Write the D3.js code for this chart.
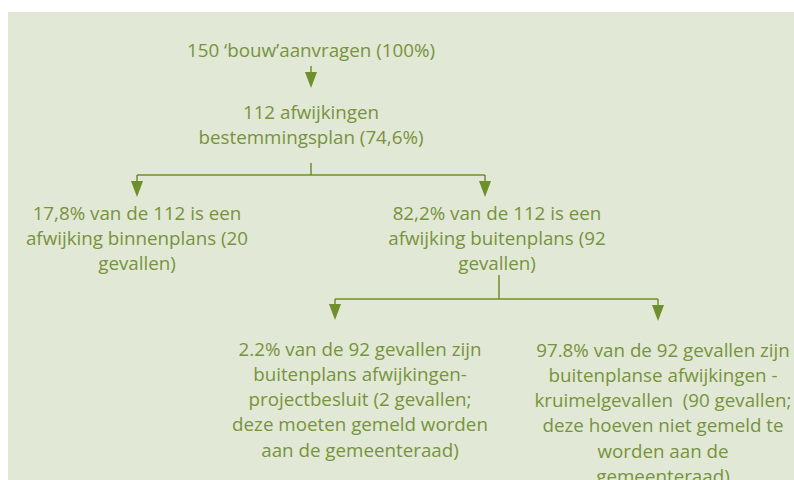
<!DOCTYPE html>
<html lang="nl">
<head>
<meta charset="utf-8">
<title>Afwijkingen bestemmingsplan</title>
<script src="https://d3js.org/d3.v7.min.js"></script>
<style>
  body { margin: 0; background: #fff; }
  text { font-family: "Open Sans", Lato, sans-serif; white-space: pre; }
</style>
</head>
<body>
<svg id="chart" width="794" height="480"></svg>
<script>
// nodes of the tree (text lines as shown)
var nodeIds = ["root", "afw", "binnen", "buiten", "project", "kruimel"];
var nodeLines = [
  ["150 \u2018bouw\u2019aanvragen (100%)"],
  ["112 afwijkingen", "bestemmingsplan (74,6%)"],
  ["17,8% van de 112 is een", "afwijking binnenplans (20", "gevallen)"],
  ["82,2% van de 112 is een", "afwijking buitenplans (92", "gevallen)"],
  ["2.2% van de 92 gevallen zijn", "buitenplans afwijkingen-", "projectbesluit (2 gevallen;", "deze moeten gemeld worden", "aan de gemeenteraad)"],
  ["97.8% van de 92 gevallen zijn", "buitenplanse afwijkingen -", "kruimelgevallen  (90 gevallen;", "deze hoeven niet gemeld te", "worden aan de", "gemeenteraad)"]
];
var linkFrom = ["root", "afw", "afw", "buiten", "buiten"];
var linkTo   = ["afw", "binnen", "buiten", "project", "kruimel"];

// layout (pixel positions of each box: text centre x, first line y, arrow x)
var layout = {
  root:    {x: 311, y: 50,  ax: 311, bottom: 66},
  afw:     {x: 311, y: 112, ax: 311, bottom: 163},
  binnen:  {x: 137, y: 213, ax: 137},
  buiten:  {x: 497, y: 213, ax: 485, bx: 499, bottom: 275},
  project: {x: 360, y: 349, ax: 335},
  kruimel: {x: 663, y: 350, ax: 658}
};

var textColor = "#77933c", lineColor = "#6f8f2c", lineH = 25.3;
var svg = d3.select("#chart");

svg.append("rect").attr("x", 8).attr("y", 12).attr("width", 786).attr("height", 468)
  .attr("fill", "#e2e8d6");

var nodes = nodeIds.map(function(id, i) { return {id: id, lines: nodeLines[i]}; });

var g = svg.selectAll("g.node").data(nodes).enter().append("g").attr("class", "node");
g.each(function(d) {
  var p = layout[d.id];
  d3.select(this).selectAll("text").data(d.lines).enter().append("text")
    .attr("x", p.x)
    .attr("y", function(t, j) { return p.y + j * lineH; })
    .attr("dy", "0.35em")
    .attr("text-anchor", "middle")
    .attr("fill", textColor)
    .attr("font-size", 17)
    .text(function(t) { return t; });
});

// fit the font size to the width of the top label (about 248px in the original)
var w = svg.select("g.node text").node().getComputedTextLength();
svg.selectAll("g.node text").attr("font-size", (17 * 248 / w).toFixed(2));

// connectors
var links = linkFrom.map(function(f, i) { return {from: f, to: linkTo[i]}; });
var byParent = d3.group(links, function(l) { return l.from; });

byParent.forEach(function(kids, parent) {
  var p = layout[parent];
  var sx = p.bx || p.ax;
  if (kids.length === 1) {
    var c = layout[kids[0].to];
    var tipY = c.y - 24;
    svg.append("line").attr("x1", c.ax).attr("x2", c.ax).attr("y1", p.bottom).attr("y2", tipY - 14)
      .attr("stroke", lineColor).attr("stroke-width", 1.5);
    arrow(c.ax, tipY);
  } else {
    var hy = p.bottom + 12 + (parent === "buiten" ? 12 : 0);
    var xs = kids.map(function(k) { return layout[k.to].ax; });
    svg.append("line").attr("x1", sx).attr("x2", sx).attr("y1", p.bottom).attr("y2", hy)
      .attr("stroke", lineColor).attr("stroke-width", 1.5);
    svg.append("line").attr("x1", d3.min(xs)).attr("x2", d3.max(xs)).attr("y1", hy).attr("y2", hy)
      .attr("stroke", lineColor).attr("stroke-width", 1.5);
    kids.forEach(function(k) {
      var c = layout[k.to];
      var ty = c.y - 16 - (k.from === "buiten" ? 13 : 0);
      svg.append("line").attr("x1", c.ax).attr("x2", c.ax).attr("y1", hy).attr("y2", ty - 14)
        .attr("stroke", lineColor).attr("stroke-width", 1.5);
      arrow(c.ax, ty);
    });
  }
});

function arrow(x, tip) {
  svg.append("path")
    .attr("d", "M" + (x - 6) + "," + (tip - 16) + "L" + (x + 6) + "," + (tip - 16) + "L" + x + "," + tip + "Z")
    .attr("fill", lineColor);
}
</script>
</body>
</html>
